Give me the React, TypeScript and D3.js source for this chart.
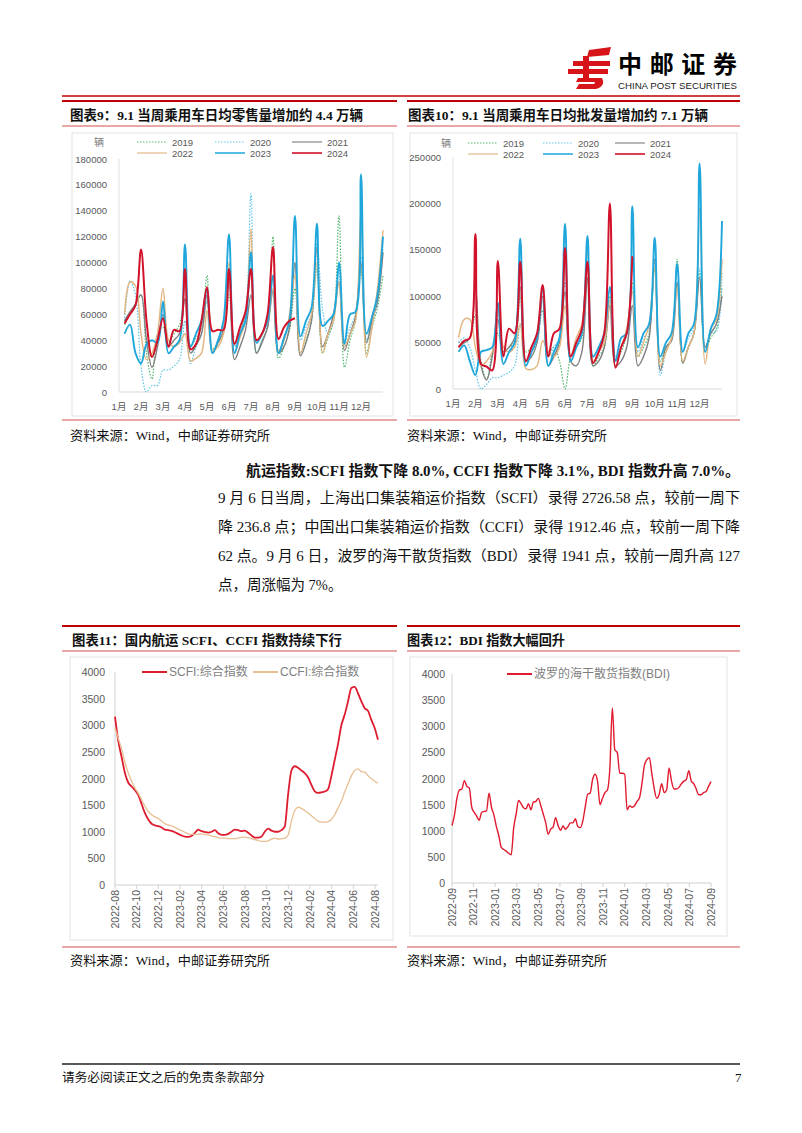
import * as d3 from 'd3';

const SERIF = "'Liberation Serif','Noto Sans CJK SC',serif";
const SANS = "'Liberation Sans','Noto Sans CJK SC',sans-serif";
const RED = '#C00000';
const THIN_RED = '#D0504D';

// 图表9/10: weekly daily-average volumes (千辆), 4 weeks per month
const MONTHS = ['1月', '2月', '3月', '4月', '5月', '6月', '7月', '8月', '9月', '10月', '11月', '12月'];
const YEARS = ['2019', '2020', '2021', '2022', '2023', '2024'];
const YEAR_COLORS = ['#4DB56A', '#5CC3E6', '#7F7F7F', '#E2B47E', '#1FA7DC', '#D2112B'];
const YEAR_DASH = ['1.5 1.5', '1.5 1.5', undefined, undefined, undefined, undefined];
const YEAR_WIDTH = [1.2, 1.2, 1.4, 1.4, 1.9, 2];

const retail2019 = [52, 60, 68, 75, 30, 10, 45, 50, 38, 45, 52, 72, 36, 42, 50, 90, 33, 38, 45, 75, 38, 48, 60, 95, 30, 40, 50, 120, 26, 35, 48, 80, 30, 40, 55, 95, 30, 42, 55, 136, 19, 40, 55, 95, 30, 50, 65, 90];
const retail2020 = [55, 86, 75, 20, 0, 5, 5, 17, 17, 20, 25, 55, 22, 35, 45, 70, 30, 40, 50, 85, 35, 45, 60, 153, 30, 40, 50, 90, 30, 40, 55, 100, 40, 50, 60, 115, 64, 45, 55, 95, 40, 50, 60, 105, 40, 55, 70, 110];
const retail2021 = [55, 62, 68, 75, 40, 19, 35, 60, 35, 40, 45, 72, 30, 36, 45, 75, 30, 38, 48, 95, 25, 35, 48, 75, 30, 38, 50, 78, 30, 35, 50, 100, 28, 38, 55, 112, 35, 45, 60, 85, 32, 45, 58, 100, 38, 55, 70, 108];
const retail2022 = [60, 85, 82, 45, 25, 30, 45, 80, 40, 35, 38, 45, 24, 26, 30, 63, 32, 35, 45, 100, 30, 42, 55, 126, 40, 45, 55, 80, 32, 40, 60, 90, 30, 45, 60, 100, 30, 45, 55, 85, 35, 45, 55, 140, 27, 50, 80, 125];
const retail2023 = [45, 52, 30, 22, 37, 40, 38, 70, 30, 35, 40, 114, 35, 45, 55, 80, 30, 40, 55, 122, 30, 45, 55, 108, 38, 45, 55, 90, 30, 42, 55, 136, 43, 55, 65, 130, 51, 55, 60, 100, 37, 60, 62, 168, 45, 58, 75, 120];
const retail2024 = [53, 60, 67, 110, 55, 27, 40, 57, 35, 48, 47, 95, 33, 37, 55, 81, 47, 48, 48, 95, 37, 50, 62, 95, 40, 45, 60, 112, 41, 50, 55, 57];

const whole2019 = [50, 52, 55, 80, 30, 10, 40, 60, 40, 45, 50, 100, 40, 45, 55, 85, 40, 45, 30, 0, 35, 45, 55, 120, 25, 35, 45, 100, 30, 40, 60, 115, 35, 45, 60, 130, 30, 45, 55, 140, 28, 45, 60, 125, 40, 55, 65, 110];
const whole2020 = [50, 55, 45, 20, 0, 5, 12, 12, 15, 18, 25, 70, 30, 40, 50, 95, 35, 45, 55, 115, 30, 45, 60, 150, 30, 40, 55, 95, 35, 45, 60, 110, 40, 55, 65, 140, 15, 40, 55, 115, 40, 55, 65, 130, 45, 60, 62, 125];
const whole2021 = [45, 50, 55, 110, 25, 10, 35, 75, 40, 45, 55, 110, 30, 35, 50, 100, 25, 35, 50, 105, 30, 25, 40, 120, 25, 30, 45, 90, 25, 30, 45, 90, 25, 35, 55, 140, 20, 45, 52, 115, 28, 45, 60, 120, 45, 60, 70, 100];
const whole2022 = [55, 75, 75, 45, 25, 30, 40, 90, 45, 40, 45, 70, 22, 21, 25, 52, 40, 35, 45, 90, 35, 55, 70, 150, 30, 40, 50, 95, 30, 45, 65, 105, 35, 50, 70, 130, 25, 40, 55, 110, 30, 45, 60, 195, 27, 65, 75, 140];
const whole2023 = [40, 47, 30, 15, 40, 42, 45, 93, 27, 40, 50, 162, 25, 40, 55, 110, 25, 40, 55, 178, 30, 45, 60, 165, 35, 45, 60, 110, 30, 55, 60, 197, 45, 60, 70, 163, 35, 50, 60, 135, 40, 60, 70, 243, 40, 65, 80, 181];
const whole2024 = [45, 52, 55, 167, 27, 24, 20, 138, 35, 65, 60, 137, 30, 45, 60, 112, 35, 60, 65, 152, 35, 50, 65, 137, 28, 40, 60, 200, 23, 45, 60, 143];

// 图表11: SCFI / CCFI, 2022-09 .. 2024-09-06
const SCFI_TICKS = ['2022-08', '2022-10', '2022-12', '2023-02', '2023-04', '2023-06', '2023-08', '2023-10', '2023-12', '2024-02', '2024-04', '2024-06', '2024-08'];
const scfi = [3160, 2700, 2400, 2100, 1920, 1850, 1780, 1690, 1520, 1350, 1230, 1150, 1120, 1105, 1080, 1040, 1030, 1015, 990, 960, 930, 910, 905, 920, 980, 1040, 1010, 995, 985, 1000, 1030, 970, 940, 940, 960, 1000, 1040, 1030, 1010, 1020, 980, 930, 890, 890, 910, 1000, 1060, 1020, 1000, 1000, 1030, 1100, 1700, 2150, 2230, 2200, 2150, 2100, 2020, 1880, 1760, 1730, 1740, 1755, 1800, 2050, 2350, 2650, 3000, 3200, 3450, 3700, 3720, 3600, 3450, 3320, 3270, 3100, 2950, 2727];
const ccfi = [2950, 2750, 2550, 2300, 2100, 1950, 1820, 1720, 1600, 1480, 1380, 1320, 1280, 1250, 1200, 1150, 1130, 1110, 1080, 1050, 1020, 990, 960, 950, 950, 950, 960, 950, 940, 920, 910, 890, 880, 880, 870, 870, 870, 880, 900, 900, 890, 870, 850, 840, 820, 820, 830, 860, 880, 860, 870, 880, 940, 1200, 1400, 1460, 1440, 1400, 1350, 1300, 1250, 1200, 1180, 1180, 1190, 1230, 1320, 1450, 1570, 1750, 1900, 2050, 2150, 2180, 2130, 2120, 2050, 2000, 1950, 1912];

// 图表12: BDI weekly, 2022-09 .. 2024-09-06
const BDI_TICKS = ['2022-09', '2022-11', '2023-01', '2023-03', '2023-05', '2023-07', '2023-09', '2023-11', '2024-01', '2024-03', '2024-05', '2024-07', '2024-09'];
const bdi = [1100, 1300, 1620, 1780, 1800, 1960, 1850, 1820, 1450, 1350, 1280, 1200, 1350, 1370, 1380, 1720, 1450, 1300, 1080, 900, 680, 640, 610, 570, 540, 1050, 1320, 1580, 1520, 1440, 1420, 1520, 1400, 1550, 1560, 1620, 1480, 1320, 1150, 930, 1030, 1070, 1250, 1100, 1010, 1090, 1030, 1080, 1150, 1150, 1230, 1080, 1060, 1180, 1450, 1700, 1720, 1980, 2080, 1950, 1500, 1620, 1730, 1780, 2200, 3350, 2550, 2500, 2100, 2100, 2080, 1400, 1480, 1450, 1480, 1560, 1630, 1900, 2250, 2360, 2400, 2100, 1800, 1620, 1700, 1900, 1730, 1780, 2200, 1950, 1800, 1800, 1830, 1900, 1950, 1980, 2150, 1950, 1900, 1800, 1690, 1690, 1730, 1750, 1850, 1941];

const PARAGRAPH = [
  '9 月 6 日当周，上海出口集装箱运价指数（SCFI）录得 2726.58 点，较前一周下',
  '降 236.8 点；中国出口集装箱运价指数（CCFI）录得 1912.46 点，较前一周下降',
  '62 点。9 月 6 日，波罗的海干散货指数（BDI）录得 1941 点，较前一周升高 127',
];

const Logo = () => (
  <g>
    <g fill="#D7141A">
      <polygon points="589,50 611,47 609,55 587,57" />
      <rect x={573} y={61} width={37} height={5} />
      <rect x={568} y={69} width={40} height={5} />
      <rect x={583} y={56} width={6} height={22} />
      <path d="M578,78 L602,78 Q606,86 596,89 L576,89 L579,84 L594,84 Q596,82 594,82 L576,82 Z" />
    </g>
    <text x={618} y={73} fontFamily="'Noto Sans CJK SC',sans-serif" fontWeight={700} fontSize={24} textLength={119} lengthAdjust="spacing">
      中邮证券
    </text>
    <text x={618} y={89} fontFamily="'Liberation Sans',sans-serif" fontSize={9} textLength={119} lengthAdjust="spacingAndGlyphs" fill="#222">
      CHINA POST SECURITIES
    </text>
    <line x1={62} x2={740} y1={96} y2={96} stroke={RED} strokeWidth={1.5} />
  </g>
);

const Title = ({ x0, x1, y, tx, text, len }) => (
  <g>
    <line x1={x0} x2={x1} y1={y} y2={y} stroke={RED} strokeWidth={2} />
    <line x1={x0} x2={x1} y1={y + 25} y2={y + 25} stroke={THIN_RED} strokeWidth={1} />
    <text x={tx} y={y + 19} fontFamily={SERIF} fontWeight={700} fontSize={13.5} textLength={len} lengthAdjust="spacingAndGlyphs" fill="#111">
      {text}
    </text>
  </g>
);

const Source = ({ x, y }) => (
  <text x={x} y={y} fontFamily={SERIF} fontSize={13} textLength={200} lengthAdjust="spacingAndGlyphs" fill="#111">
    资料来源：Wind，中邮证券研究所
  </text>
);

const SalesChart = (props) => {
  const { series, x0, x1, yTop, yZero, yMax, step, labelRight, monthY, box, legendX, legendY, unitX } = props;
  const x = d3.scaleLinear().domain([0, 12]).range([x0, x1]);
  const y = d3.scaleLinear().domain([0, yMax]).range([yZero, yTop]);
  const line = d3
    .line<number>()
    .x((d, i) => x(Math.floor(i / 4) + ((i % 4) + 1) / 4))
    .y((d) => y(d * 1000))
    .curve(d3.curveCatmullRom.alpha(0.5));
  const ticks = d3.range(0, yMax + 1, step);

  return (
    <g>
      <rect x={box[0]} y={box[1]} width={box[2] - box[0]} height={box[3] - box[1]} fill="none" stroke="#E3E3E3" />
      <text x={unitX} y={legendY[0] + 4} fontFamily={SANS} fontSize={10} fill="#7F7F7F" textAnchor="middle">
        辆
      </text>
      {YEARS.map((yr, i) => {
        const lx = legendX[i % 3];
        const ly = legendY[Math.floor(i / 3)];
        return (
          <g key={yr}>
            <line x1={lx} x2={lx + 30} y1={ly} y2={ly} stroke={YEAR_COLORS[i]} strokeWidth={YEAR_WIDTH[i] * 0.8} strokeDasharray={YEAR_DASH[i]} />
            <text x={lx + 35} y={ly + 3.5} fontFamily={SANS} fontSize={9.5} fill="#595959">
              {yr}
            </text>
          </g>
        );
      })}
      <line x1={x0} x2={x0} y1={yTop} y2={yZero} stroke="#E0E0E0" />
      <line x1={x0} x2={x1} y1={yZero} y2={yZero} stroke="#D9D9D9" />
      {ticks.map((t) => (
        <text key={t} x={labelRight} y={y(t) + 3.5} textAnchor="end" fontFamily={SANS} fontSize={9.5} fill="#595959">
          {t}
        </text>
      ))}
      {MONTHS.map((m, i) => (
        <text key={m} x={x(i)} y={monthY} textAnchor="middle" fontFamily={SANS} fontSize={9.5} fill="#595959">
          {m}
        </text>
      ))}
      {series.map((s, i) => (
        <path key={i} d={line(s)} fill="none" stroke={YEAR_COLORS[i]} strokeWidth={YEAR_WIDTH[i]} strokeDasharray={YEAR_DASH[i]} />
      ))}
    </g>
  );
};

const IndexChart = (props) => {
  const { series, x0, x1, xEnd, yTop, yZero, labelRight, ticks, box, legend } = props;
  const y = d3.scaleLinear().domain([0, 4000]).range([yZero, yTop]);
  const xt = d3.scalePoint().domain(ticks).range([x0, x1]);

  return (
    <g>
      <rect x={box[0]} y={box[1]} width={box[2] - box[0]} height={box[3] - box[1]} fill="none" stroke="#E3E3E3" />
      <line x1={x0} x2={x0} y1={yTop} y2={yZero} stroke="#D0D0D0" />
      <line x1={x0} x2={xEnd} y1={yZero} y2={yZero} stroke="#D0D0D0" />
      {d3.range(0, 4001, 500).map((t) => (
        <text key={t} x={labelRight} y={y(t) + 4} textAnchor="end" fontFamily={SANS} fontSize={10.5} fill="#595959">
          {t}
        </text>
      ))}
      {ticks.map((t) => (
        <g key={t} transform={`translate(${xt(t)},${yZero})`}>
          <line y2={4} stroke="#D0D0D0" />
          <text transform="rotate(-90)" x={-5} dy="0.35em" textAnchor="end" fontFamily={SANS} fontSize={10.5} fill="#595959">
            {t}
          </text>
        </g>
      ))}
      {series.map((s) => {
        const x = d3.scaleLinear().domain([0, s.values.length - 1]).range([x0, xEnd]);
        const line = d3
          .line<number>()
          .x((d, i) => x(i))
          .y((d) => y(d))
          .curve(d3.curveMonotoneX);
        return <path key={s.label} d={line(s.values)} fill="none" stroke={s.color} strokeWidth={s.width} strokeLinejoin="round" />;
      })}
      {series.map((s, i) => (
        <g key={s.label} transform={`translate(${legend[i]},${yTop})`}>
          <line x1={0} x2={25} stroke={s.color} strokeWidth={2} />
          <text x={27} y={4} fontFamily={SANS} fontSize={12} fill="#7F7F7F">
            {s.label}
          </text>
        </g>
      ))}
    </g>
  );
};

export default function App() {
  return (
    <svg width={802} height={1133} style={{ position: 'absolute', left: 0, top: 0, background: '#fff' }}>
      <rect width={802} height={1133} fill="#fff" />
      <Logo />

      <Title x0={62} x1={397} y={101} tx={70} text="图表9：9.1 当周乘用车日均零售量增加约 4.4 万辆" len={293} />
      <Title x0={407} x1={740} y={101} tx={408} text="图表10：9.1 当周乘用车日均批发量增加约 7.1 万辆" len={300} />

      <SalesChart
        series={[retail2019, retail2020, retail2021, retail2022, retail2023, retail2024]}
        x0={119}
        x1={383}
        yTop={159}
        yZero={392}
        yMax={180000}
        step={20000}
        labelRight={107}
        monthY={410}
        box={[72, 133, 393, 416]}
        legendX={[137, 215, 292]}
        legendY={[142, 153]}
        unitX={99}
      />
      <SalesChart
        series={[whole2019, whole2020, whole2021, whole2022, whole2023, whole2024]}
        x0={453}
        x1={722}
        yTop={157}
        yZero={389}
        yMax={250000}
        step={50000}
        labelRight={441}
        monthY={407}
        box={[410, 133, 737, 416]}
        legendX={[468, 543, 615]}
        legendY={[143, 154]}
        unitX={446}
      />

      <line x1={62} x2={397} y1={420} y2={420} stroke={THIN_RED} />
      <line x1={407} x2={740} y1={420} y2={420} stroke={THIN_RED} />
      <Source x={70} y={440} />
      <Source x={407} y={440} />

      <text x={246} y={476} fontFamily={SERIF} fontWeight={700} fontSize={14.5} textLength={494} lengthAdjust="spacingAndGlyphs" fill="#111">
        航运指数:SCFI 指数下降 8.0%, CCFI 指数下降 3.1%, BDI 指数升高 7.0%。
      </text>
      {PARAGRAPH.map((l, i) => (
        <text key={i} x={218} y={503 + i * 29} fontFamily={SERIF} fontSize={14.5} textLength={522} lengthAdjust="spacingAndGlyphs" fill="#111">
          {l}
        </text>
      ))}
      <text x={218} y={590} fontFamily={SERIF} fontSize={14.5} fill="#111">
        点，周涨幅为 7%。
      </text>

      <Title x0={62} x1={397} y={626} tx={72} text="图表11：国内航运 SCFI、CCFI 指数持续下行" len={270} />
      <Title x0={407} x1={740} y={626} tx={407} text="图表12：BDI 指数大幅回升" len={158} />

      <IndexChart
        series={[
          { label: 'SCFI:综合指数', values: scfi, color: '#DD1C2F', width: 1.8 },
          { label: 'CCFI:综合指数', values: ccfi, color: '#E8BE93', width: 1.3 },
        ]}
        x0={115}
        x1={375}
        xEnd={378}
        yTop={672}
        yZero={885}
        labelRight={105}
        ticks={SCFI_TICKS}
        box={[70, 657, 393, 940]}
        legend={[142, 253]}
      />
      <IndexChart
        series={[{ label: '波罗的海干散货指数(BDI)', values: bdi, color: '#E01A2F', width: 1.4 }]}
        x0={452}
        x1={711}
        xEnd={711}
        yTop={674}
        yZero={883}
        labelRight={445}
        ticks={BDI_TICKS}
        box={[410, 657, 727, 936]}
        legend={[507]}
      />

      <line x1={62} x2={397} y1={947} y2={947} stroke={THIN_RED} />
      <line x1={407} x2={740} y1={947} y2={947} stroke={THIN_RED} />
      <Source x={70} y={965} />
      <Source x={407} y={965} />

      <line x1={62} x2={740} y1={1064} y2={1064} stroke="#222" strokeWidth={1.5} />
      <text x={62} y={1082} fontFamily={SERIF} fontSize={12.5} textLength={203} lengthAdjust="spacingAndGlyphs" fill="#111">
        请务必阅读正文之后的免责条款部分
      </text>
      <text x={735} y={1082} fontFamily={SERIF} fontSize={13} fill="#111">
        7
      </text>
    </svg>
  );
}
